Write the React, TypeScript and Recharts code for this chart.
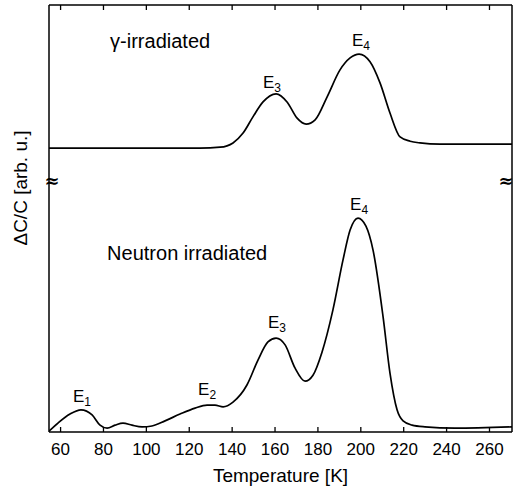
import React from 'react';
import { LineChart, Line, XAxis, YAxis, ReferenceDot } from 'recharts';

const FONT = '"Liberation Sans", Arial, Helvetica, sans-serif';

// --- temperature axis ---
const tempTicks = [60, 80, 100, 120, 140, 160, 180, 200, 220, 240, 260];
const tempDomain = [54.6, 270.5];

// --- gamma-irradiated curve (upper, offset) ---
const gammaT = [54.6, 125, 134.4, 140.4, 145.1, 149.7, 154.4, 160.5, 165.6, 170.3, 174.5, 178.7, 184.3, 190.3, 195.0, 199.2, 204.3, 209.0, 213.6, 218.3, 223.0, 227.6, 236.9, 270.5];
const gammaV = [66.5, 66.5, 66.7, 67.7, 70.0, 73.8, 77.3, 79.2, 77.3, 73.5, 72.1, 73.1, 78.5, 84.8, 87.6, 88.5, 86.7, 81.7, 74.7, 69.1, 68.1, 67.7, 67.4, 67.4];

// --- neutron-irradiated curve (lower) ---
const neutronT = [54.6, 58.8, 64.4, 69.5, 74.7, 78.4, 81.7, 85.4, 89.1, 93.3, 98.0, 102.6, 108.7, 115.7, 122.7, 128.3, 132.0, 135.8, 140.4, 146.9, 152.1, 156.7, 160.5, 164.7, 169.3, 174.0, 177.7, 181.9, 187.0, 191.7, 195.0, 198.7, 202.4, 205.7, 210.4, 213.6, 216.9, 219.7, 223.9, 229.9, 243.9, 270.5];
const neutronV = [0.2, 2.1, 4.2, 5.2, 4.0, 1.6, 0.9, 1.6, 2.1, 1.6, 1.2, 1.4, 2.6, 4.2, 5.6, 6.3, 6.3, 5.9, 7.0, 11.0, 16.9, 21.1, 22.0, 20.4, 15.0, 11.9, 13.3, 18.7, 28.6, 40.3, 47.3, 50.1, 48.2, 42.6, 26.9, 13.8, 5.2, 2.6, 1.6, 1.2, 0.9, 1.2];

// --- peak labels E_n (anchored in data units) ---
const peakNames = ['3', '4', '1', '2', '3', '4'];
const peakT = [154.4, 195.9, 65.8, 124.1, 156.7, 195.0];
const peakV = [80.6, 90.4, 7.0, 8.7, 24.4, 52.0];

const gammaData = gammaT.map((t, i) => ({ t, v: gammaV[i] }));
const neutronData = neutronT.map((t, i) => ({ t, v: neutronV[i] }));

const BOTTOM_GAP = 10;

// inward tick + label for the bottom axis
const BottomTick = (props: any) => {
  const { x, y, payload } = props;
  const axisY = y - BOTTOM_GAP;
  return (
    <g>
      <line x1={x} x2={x} y1={axisY} y2={axisY - 5} stroke="#000" strokeWidth={1.3} />
      <text x={x} y={axisY + 23} textAnchor="middle" fontSize={17} fontFamily={FONT} fill="#000">
        {payload.value}
      </text>
    </g>
  );
};

// inward tick only, for the top axis
const TopTick = (props: any) => {
  const { x, y } = props;
  return <line x1={x} x2={x} y1={y} y2={y + 5} stroke="#000" strokeWidth={1.3} />;
};

const peakLabel = (sub: string) => (props: any) => (
  <text x={props.cx} y={props.cy} fontSize={17} fontFamily={FONT} fill="#000">
    E<tspan fontSize={12} dy={4}>{sub}</tspan>
  </text>
);

const textLabel = (txt: string) => (props: any) => (
  <text x={props.cx} y={props.cy} fontSize={20} fontFamily={FONT} fill="#000">{txt}</text>
);

const breakMark = (dx: number) => (props: any) => (
  <text x={props.cx + dx} y={props.cy} fontSize={18} fontFamily="DejaVu Sans" fontWeight="bold"
    textAnchor="middle" dominantBaseline="central" fill="#000">≈</text>
);

export default function App() {
  return (
    <div style={{ position: 'absolute', left: 0, top: 0, background: '#fff' }}>
      <LineChart width={513} height={488} margin={{ top: 4, right: 0, bottom: 26, left: 48 }}>
        <XAxis
          dataKey="t"
          type="number"
          domain={tempDomain}
          ticks={tempTicks}
          interval={0}
          allowDataOverflow
          height={30}
          tickSize={0}
          tickMargin={BOTTOM_GAP}
          tickLine={false}
          tick={<BottomTick />}
          axisLine={{ stroke: '#000', strokeWidth: 1.5 }}
          label={{
            content: ({ viewBox }: any) => (
              <text x={viewBox.x + viewBox.width / 2} y={viewBox.y + 50} textAnchor="middle"
                fontSize={19} fontFamily={FONT} fill="#000">Temperature [K]</text>
            ),
          }}
        />
        <XAxis
          xAxisId="top"
          orientation="top"
          dataKey="t"
          type="number"
          domain={tempDomain}
          ticks={tempTicks}
          interval={0}
          allowDataOverflow
          height={1}
          tickSize={0}
          tickMargin={0}
          tickLine={false}
          tick={<TopTick />}
          axisLine={{ stroke: '#000', strokeWidth: 1.5 }}
        />
        <YAxis
          type="number"
          domain={[0, 100]}
          width={1}
          tick={false}
          tickLine={false}
          axisLine={{ stroke: '#000', strokeWidth: 1.5 }}
          label={{
            content: ({ viewBox }: any) => {
              const lx = viewBox.x + viewBox.width - 22;
              const ly = viewBox.y + 183;
              return (
                <text x={lx} y={ly} textAnchor="middle" transform={`rotate(-90 ${lx} ${ly})`}
                  fontSize={19} fontFamily={FONT} fill="#000">ΔC/C [arb. u.]</text>
              );
            },
          }}
        />
        <YAxis
          yAxisId="right"
          orientation="right"
          type="number"
          domain={[0, 100]}
          width={1}
          tick={false}
          tickLine={false}
          axisLine={{ stroke: '#000', strokeWidth: 1.5 }}
        />
        <Line data={gammaData} dataKey="v" type="monotone" stroke="#000" strokeWidth={1.7}
          dot={false} activeDot={false} isAnimationActive={false} />
        <Line data={neutronData} dataKey="v" type="monotone" stroke="#000" strokeWidth={1.7}
          dot={false} activeDot={false} isAnimationActive={false} />

        {peakNames.map((n, i) => (
          <ReferenceDot key={'p' + i} x={peakT[i]} y={peakV[i]} r={0} ifOverflow="visible" shape={peakLabel(n)} />
        ))}
        <ReferenceDot x={83.1} y={89.9} r={0} ifOverflow="visible" shape={textLabel('γ-irradiated')} />
        <ReferenceDot x={81.7} y={40.3} r={0} ifOverflow="visible" shape={textLabel('Neutron irradiated')} />
        <ReferenceDot x={tempDomain[0]} y={58.8} r={0} ifOverflow="visible" shape={breakMark(3)} />
        <ReferenceDot x={tempDomain[1]} y={58.8} r={0} ifOverflow="visible" shape={breakMark(-6)} />
      </LineChart>
    </div>
  );
}
